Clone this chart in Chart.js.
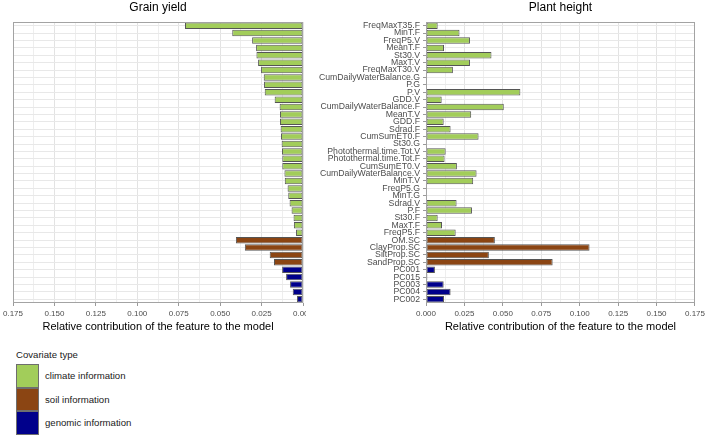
<!DOCTYPE html>
<html>
<head>
<meta charset="utf-8">
<script src="https://cdn.jsdelivr.net/npm/chart.js@4.4.1/dist/chart.umd.min.js"></script>
<style>
  body { margin: 0; background: #fff; font-family: "Liberation Sans", Arial, sans-serif; }
  #wrap { position: relative; width: 708px; height: 438px; overflow: hidden; }
  #leftBox { position: absolute; left: 0; top: 0; width: 306px; height: 338px; overflow: hidden; }
  #rightBox { position: absolute; left: 300px; top: 0; width: 408px; height: 338px; }
  #legend { position: absolute; left: 16px; top: 348px; color: #1a1a1a; }
  #legend .ttl { font-size: 9.6px; height: 16px; line-height: 13px; }
  #legend .row { display: flex; align-items: center; height: 23.6px; }
  #legend .key { width: 23px; height: 23.6px; box-sizing: border-box; border: 1px solid #6e6e6e; }
  #legend .lab { font-size: 9.6px; margin-left: 6px; }
</style>
</head>
<body>
<div id="wrap">
  <div id="leftBox"><canvas id="grainChart" width="320" height="338"></canvas></div>
  <div id="rightBox"><canvas id="heightChart" width="408" height="338"></canvas></div>
  <div id="legend"></div>
</div>
<script>
// features, ordered as in the figure (sorted by grain yield importance within each type)
const features = [
  "FreqMaxT35.F", "MinT.F", "FreqP5.V", "MeanT.F", "St30.V", "MaxT.V", "FreqMaxT30.V",
  "CumDailyWaterBalance.G", "P.G", "P.V", "GDD.V", "CumDailyWaterBalance.F", "MeanT.V",
  "GDD.F", "Sdrad.F", "CumSumET0.F", "St30.G", "Photothermal.time.Tot.V",
  "Photothermal.time.Tot.F", "CumSumET0.V", "CumDailyWaterBalance.V", "MinT.V", "FreqP5.G",
  "MinT.G", "Sdrad.V", "P.F", "St30.F", "MaxT.F", "FreqP5.F",
  "OM.SC", "ClayProp.SC", "SiltProp.SC", "SandProp.SC",
  "PC001", "PC015", "PC003", "PC004", "PC002"
];
const covType = [
  "climate", "climate", "climate", "climate", "climate", "climate", "climate", "climate",
  "climate", "climate", "climate", "climate", "climate", "climate", "climate", "climate",
  "climate", "climate", "climate", "climate", "climate", "climate", "climate", "climate",
  "climate", "climate", "climate", "climate", "climate",
  "soil", "soil", "soil", "soil",
  "genomic", "genomic", "genomic", "genomic", "genomic"
];
const grainYield = [
  0.0712, 0.0427, 0.0307, 0.0283, 0.0281, 0.0271, 0.0253, 0.0237, 0.0235, 0.0231,
  0.0171, 0.0141, 0.0139, 0.0139, 0.0135, 0.0133, 0.0129, 0.0127, 0.0125, 0.0125,
  0.0112, 0.0110, 0.0093, 0.0089, 0.0081, 0.0069, 0.0057, 0.0055, 0.0042,
  0.0405, 0.0351, 0.0201, 0.0175,
  0.0126, 0.0102, 0.0078, 0.0062, 0.0036
];
const plantHeight = [
  0.0076, 0.0218, 0.0286, 0.0117, 0.0426, 0.0286, 0.0175, 0, 0, 0.0614,
  0.0102, 0.0506, 0.0294, 0.0115, 0.0160, 0.0342, 0, 0.0128, 0.0121, 0.0201,
  0.0329, 0.0307, 0, 0, 0.0199, 0.0299, 0.0076, 0.0104, 0.0193,
  0.0448, 0.1064, 0.0409, 0.0824,
  0.0058, 0.0009, 0.0115, 0.0160, 0.0117
];
const typeNames = ["climate", "soil", "genomic"];
const typeLabels = ["climate information", "soil information", "genomic information"];
const typeColors = ["#A2CD5A", "#8B4513", "#00008B"];
const xMax = 0.175;
const xMinorStep = 0.0125;

const barColors = covType.map((t) => typeColors[typeNames.indexOf(t)]);
const isMajor = (v) => Math.round(v / xMinorStep) % 2 === 0;

// cadre gris autour du panneau
const panelBorder = {
  id: "panelBorder",
  afterDraw(chart) {
    const { ctx, chartArea: a } = chart;
    ctx.save();
    ctx.strokeStyle = "#a3a3a3";
    ctx.lineWidth = 1;
    ctx.strokeRect(Math.round(a.left) + 0.5, Math.round(a.top) + 0.5,
      Math.round(a.right - a.left) - 1, Math.round(a.bottom - a.top) - 1);
    ctx.restore();
  },
};

function makePanel(id, title, values, reversed) {
  const ctx = document.getElementById(id).getContext("2d");
  return new Chart(ctx, {
    type: "bar",
    data: {
      labels: features,
      datasets: [{
        data: values,
        backgroundColor: barColors,
        borderColor: "#555555",
        borderWidth: 1,
        borderSkipped: false,
        categoryPercentage: 1,
        barPercentage: 0.88,
      }],
    },
    options: {
      indexAxis: "y",
      responsive: false,
      animation: false,
      layout: { padding: reversed ? { left: 12, right: 17 } : { left: 0, right: 12.7 } },
      plugins: {
        legend: { display: false },
        tooltip: { enabled: false },
        title: {
          display: true,
          text: title,
          fullSize: false,
          color: "#000",
          font: { family: "Liberation Sans", size: 12, weight: "normal" },
          padding: { top: 0, bottom: 7.6 },
        },
      },
      scales: {
        x: {
          min: 0,
          max: xMax,
          reverse: reversed,
          afterFit: (s) => { s.height = 35; },
          border: { display: false },
          grid: {
            color: (c) => (isMajor(c.tick.value) ? "#e3e3e3" : "#eeeeee"),
            tickColor: (c) => (isMajor(c.tick.value) ? "#9a9a9a" : "rgba(0,0,0,0)"),
            tickLength: 3,
          },
          ticks: {
            stepSize: xMinorStep,
            autoSkip: false,
            maxRotation: 0,
            minRotation: 0,
            padding: 3,
            color: "#4d4d4d",
            font: { family: "Liberation Sans", size: 8 },
            callback: (v) => (isMajor(v) ? v.toFixed(3) : ""),
          },
          title: {
            display: true,
            text: "Relative contribution of the feature to the model",
            color: "#000",
            font: { family: "Liberation Sans", size: 11 },
            padding: { top: 0, bottom: 4 },
          },
        },
        y: {
          afterFit: (s) => { s.width = reversed ? 0 : 126; },
          border: { display: false },
          grid: {
            offset: false,
            color: "#e8e8e8",
            drawTicks: !reversed,
            tickLength: 3,
            tickColor: "#9a9a9a",
          },
          ticks: {
            display: !reversed,
            autoSkip: false,
            padding: 3,
            color: "#4d4d4d",
            font: { family: "Liberation Sans", size: 8.7 },
          },
        },
      },
    },
    plugins: [panelBorder],
  });
}

makePanel("grainChart", "Grain yield", grainYield, true);
makePanel("heightChart", "Plant height", plantHeight, false);

// légende
const legend = document.getElementById("legend");
let html = '<div class="ttl">Covariate type</div>';
typeLabels.forEach((lab, i) => {
  html += '<div class="row"><div class="key" style="background:' + typeColors[i] +
    '"></div><div class="lab">' + lab + "</div></div>";
});
legend.innerHTML = html;
</script>
</body>
</html>
